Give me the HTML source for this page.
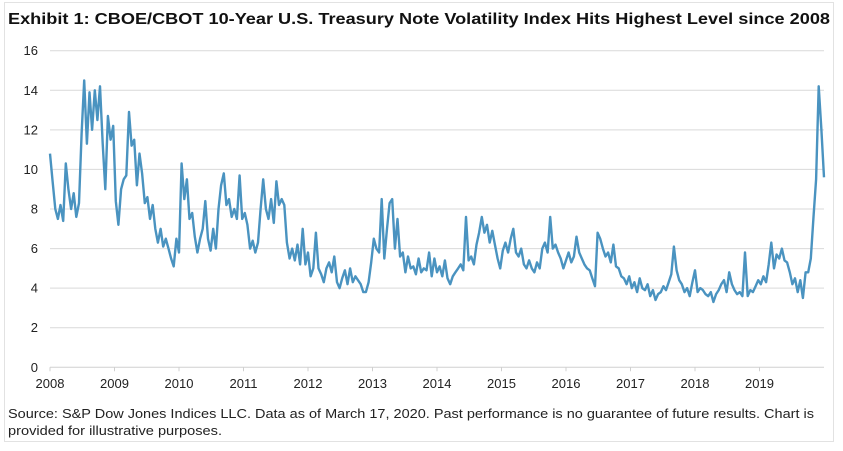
<!DOCTYPE html>
<html><head><meta charset="utf-8"><style>
html,body{margin:0;padding:0;background:#fff;}
svg{display:block;font-family:"Liberation Sans",Arial,sans-serif;}
</style></head><body>
<svg id="chart" width="843" height="451" viewBox="0 0 843 451">
<rect x="4.5" y="2.5" width="829" height="439" fill="#fff" stroke="#e2e2e2"/>
<text x="8" y="24" font-size="15.5" font-weight="bold" fill="#111" textLength="822" lengthAdjust="spacingAndGlyphs">Exhibit 1: CBOE/CBOT 10-Year U.S. Treasury Note Volatility Index Hits Highest Level since 2008</text>
<g id="grid"></g><g id="yt"></g><g id="xt"></g><g id="series"></g>
<text x="8" y="418" font-size="13" fill="#222" textLength="806" lengthAdjust="spacingAndGlyphs">Source: S&amp;P Dow Jones Indices LLC. Data as of March 17, 2020. Past performance is no guarantee of future results. Chart is</text>
<text x="8" y="435" font-size="13" fill="#222" textLength="214" lengthAdjust="spacingAndGlyphs">provided for illustrative purposes.</text>
</svg>
<script>
const yTicks=[0,2,4,6,8,10,12,14,16];
const xTickLabels=["2008","2009","2010","2011","2012","2013","2014","2015","2016","2017","2018","2019"];
const tviValues=[
10.8,9.4,8.0,7.5,8.2,7.4,10.3,9.0,8.0,8.8,7.6,8.3,11.8,14.5,11.3,13.9,12.0,14.0,12.5,14.2,11.3,9.0,12.7,11.5,
12.2,8.4,7.2,9.0,9.5,9.7,12.9,11.2,11.5,9.2,10.8,9.8,8.3,8.6,7.5,8.2,7.0,6.3,7.0,6.1,6.5,6.0,5.5,5.1,
6.5,5.8,10.3,8.5,9.5,7.5,7.8,6.6,5.8,6.5,7.0,8.4,6.5,5.9,7.0,6.0,8.0,9.2,9.8,8.2,8.5,7.6,8.0,7.5,
9.7,7.5,7.8,7.2,6.0,6.4,5.8,6.3,8.0,9.5,8.0,7.5,8.5,7.3,9.4,8.2,8.5,8.2,6.3,5.5,6.0,5.4,6.2,5.2,
7.0,5.2,5.8,4.6,5.0,6.8,5.0,4.7,4.3,5.0,5.3,4.8,5.6,4.3,4.0,4.5,4.9,4.2,5.0,4.3,4.6,4.4,4.2,3.8,
3.8,4.3,5.3,6.5,6.0,5.8,8.5,5.5,7.0,8.3,8.5,6.0,7.5,5.6,5.8,4.8,5.6,5.0,5.1,4.7,5.5,4.8,5.0,4.9,
5.8,4.6,5.5,4.8,5.1,4.6,5.4,4.5,4.2,4.6,4.8,5.0,5.2,4.9,7.6,5.4,5.6,5.2,6.2,6.8,7.6,6.8,7.2,6.3,
6.9,6.2,5.5,5.0,5.9,6.3,5.8,6.5,7.0,5.8,5.6,6.0,5.2,5.0,5.4,5.0,4.8,5.3,5.0,6.0,6.3,5.8,7.6,6.0,
6.2,5.8,5.5,5.0,5.4,5.8,5.3,5.6,6.6,5.8,5.5,5.2,5.0,4.9,4.5,4.1,6.8,6.5,6.0,5.6,5.8,5.3,6.2,5.1,
5.0,4.6,4.5,4.2,4.6,4.0,4.3,3.8,4.5,4.0,3.9,4.2,3.6,3.9,3.4,3.7,3.8,4.1,3.9,4.3,4.7,6.1,4.9,4.4,
4.2,3.8,4.0,3.6,4.3,4.9,3.8,4.0,3.9,3.7,3.6,3.8,3.3,3.7,3.9,4.2,4.4,3.8,4.8,4.2,3.9,3.7,3.8,3.6,
5.8,3.6,3.9,3.8,4.1,4.4,4.2,4.6,4.3,5.2,6.3,5.0,5.7,5.5,6.0,5.4,5.3,4.8,4.2,4.5,3.8,4.4,3.5,4.8,
4.8,5.5,7.6,9.5,14.2,12.0,9.6];
const NS="http://www.w3.org/2000/svg";
const X0=50,X1=824,Y0=367.3,Y16=50.7;
const yScale=v=>Y0+(Y16-Y0)*v/16;
const yearW=(X1-X0)/12;
const xYear=i=>X0+i*yearW;
const xIdx=i=>X0+(X1-X0)*i/(tviValues.length-1);
function mk(tag,attrs,parent){const e=document.createElementNS(NS,tag);for(const k in attrs)e.setAttribute(k,attrs[k]);parent.appendChild(e);return e;}
const grid=document.getElementById('grid'),yt=document.getElementById('yt'),xt=document.getElementById('xt'),ser=document.getElementById('series');
yTicks.forEach(v=>{
  const y=yScale(v);
  const l=mk('line',{x1:X0,x2:X1,y1:y,y2:y,stroke:v===0?'#d0d0d0':'#d9d9d9','stroke-width':1},grid);
  
  
  const t=mk('text',{x:38,y:y+4.5,'font-size':13,fill:'#222','text-anchor':'end'},yt);
  t.textContent=v;
  
  
});
xTickLabels.forEach((lab,i)=>{
  const x=xYear(i);
  const tk=mk('line',{x1:x,x2:x,y1:Y0,y2:Y0+4,stroke:'#d0d0d0'},xt);
  
  
  const t=mk('text',{x:x,y:388,'font-size':13,fill:'#222','text-anchor':'middle'},xt);
  t.textContent=lab;
  
  
});
const d=tviValues.map((v,i)=>(i?'L':'M')+xIdx(i).toFixed(1)+' '+yScale(v).toFixed(1)).join(' ');
const p=mk('path',{d:d,fill:'none',stroke:'#4a93c0','stroke-width':2.4,'stroke-linejoin':'round'},ser);


</script>
</body></html>
